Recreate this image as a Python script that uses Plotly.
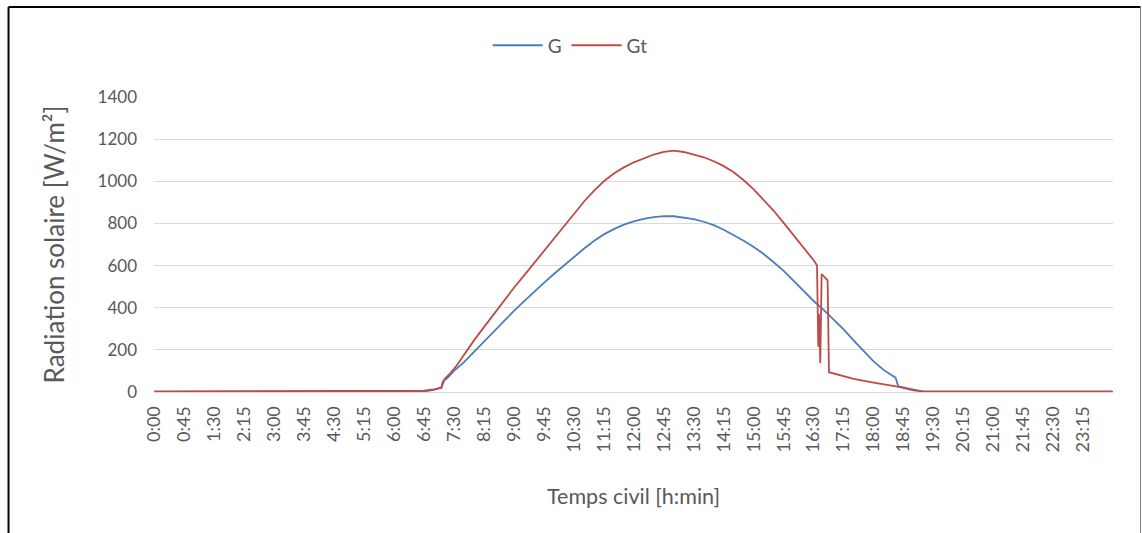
import plotly.graph_objects as go

# Global irradiance G and tilted-plane irradiance Gt over one day (W/m2)
g_time = ["0:00", "3:00", "6:00", "6:30", "6:45", "7:00", "7:11", "7:13", "7:20",
          "7:30", "7:45", "8:00", "8:15", "8:30", "8:45", "9:00", "9:15", "9:30",
          "9:45", "10:00", "10:15", "10:30", "10:45", "11:00", "11:15", "11:30",
          "11:45", "12:00", "12:15", "12:30", "12:45", "13:00", "13:15", "13:30",
          "13:45", "14:00", "14:15", "14:30", "14:45", "15:00", "15:15", "15:30",
          "15:45", "16:00", "16:15", "16:30", "16:45", "17:00", "17:15", "17:30",
          "17:45", "18:00", "18:15", "18:30", "18:33", "18:37", "19:00", "19:15",
          "19:30", "22:00", "23:59"]
g_vals = [0, 0, 0, 1, 3, 10, 22, 50, 66,
          100, 142, 190, 240, 290, 337, 385, 430, 475,
          518, 560, 601, 642, 680, 717, 748, 773,
          794, 810, 822, 830, 835, 834, 828, 820,
          808, 792, 770, 745, 718, 688, 655, 616,
          575, 527, 478, 432, 390, 345, 297, 245,
          195, 145, 105, 72, 68, 27, 10, 2,
          0, 0, 0]

gt_time = ["0:00", "3:00", "6:00", "6:30", "6:45", "7:00", "7:11", "7:16", "7:24",
           "7:34", "7:49", "8:00", "8:15", "8:30", "8:45", "9:00", "9:15", "9:30",
           "9:45", "10:00", "10:15", "10:30", "10:45", "11:00", "11:15", "11:30",
           "11:45", "12:00", "12:15", "12:30", "12:45", "13:00", "13:15", "13:30",
           "13:45", "14:00", "14:15", "14:30", "14:45", "15:00", "15:15", "15:30",
           "15:45", "16:00", "16:15", "16:30", "16:35", "16:36", "16:37", "16:38",
           "16:39", "16:40", "16:42", "16:51", "16:53", "17:30", "18:00", "18:20",
           "18:38", "19:00", "19:15", "22:00", "23:59"]
gt_vals = [3, 3, 3, 4, 6, 12, 19, 63, 87,
           126, 197, 245, 308, 372, 432, 495, 552, 610,
           667, 725, 785, 845, 903, 955, 1000, 1037,
           1066, 1090, 1110, 1127, 1140, 1145, 1139, 1128,
           1114, 1095, 1072, 1043, 1005, 962, 912, 860,
           803, 745, 682, 625, 601, 380, 215, 370,
           220, 137, 560, 530, 94, 62, 45, 35,
           24, 8, 3, 3, 3]

tick_labels = ["0:00", "0:45", "1:30", "2:15", "3:00", "3:45", "4:30", "5:15",
               "6:00", "6:45", "7:30", "8:15", "9:00", "9:45", "10:30", "11:15",
               "12:00", "12:45", "13:30", "14:15", "15:00", "15:45", "16:30", "17:15",
               "18:00", "18:45", "19:30", "20:15", "21:00", "21:45", "22:30", "23:15"]


def to_min(t):
    h, m = t.split(":")
    return int(h) * 60 + int(m)


FONT = "Lato, 'Open Sans', sans-serif"
GREY = "#595959"

fig = go.Figure()
fig.add_trace(go.Scatter(
    x=[to_min(t) for t in g_time], y=g_vals, name="G", mode="lines",
    line=dict(color="#4A7EBB", width=1.8)
))
fig.add_trace(go.Scatter(
    x=[to_min(t) for t in gt_time], y=gt_vals, name="Gt", mode="lines",
    line=dict(color="#BE4B48", width=1.8)
))

fig.update_layout(
    width=1142, height=533,
    margin=dict(l=154, r=29, t=97, b=141),
    paper_bgcolor="white", plot_bgcolor="white",
    font=dict(family=FONT, size=17, color=GREY),
    showlegend=True,
    legend=dict(orientation="h", x=0.434, y=1.175, xanchor="center", yanchor="middle",
                font=dict(size=19, color=GREY), itemwidth=50),
    xaxis=dict(
        range=[-0.5, 1439.5],
        tickvals=[to_min(t) for t in tick_labels], ticktext=tick_labels,
        tickangle=-90, showgrid=False, zeroline=False,
        showline=True, linecolor="#D9D9D9", linewidth=1,
        ticks="", ticklabelstandoff=6, tickfont=dict(size=18),
        title=dict(text="Temps civil [h:min]", standoff=37, font=dict(size=21.5, color=GREY)),
    ),
    yaxis=dict(
        range=[0, 1400], dtick=200,
        showgrid=True, gridcolor="#D9D9D9", gridwidth=1, zeroline=False,
        ticks="", ticklabelstandoff=16,
        title=dict(text="Radiation solaire [W/m²]", standoff=25, font=dict(size=26, color=GREY)),
    ),
)

# chart-area border as drawn in the spreadsheet export
fig.add_shape(type="line", xref="paper", yref="paper", x0=-0.1517, x1=-0.1517, y0=-0.6, y1=1.305,
              line=dict(color="black", width=2))
fig.add_shape(type="line", xref="paper", yref="paper", x0=-0.1517, x1=1.0287, y0=1.305, y1=1.305,
              line=dict(color="black", width=2))
fig.add_shape(type="line", xref="paper", yref="paper", x0=1.0287, x1=1.0287, y0=-0.6, y1=1.305,
              line=dict(color="#7F7F7F", width=1))

fig.write_html("out.html", config={"displayModeBar": False},
               post_script="document.body.style.margin='0';")
